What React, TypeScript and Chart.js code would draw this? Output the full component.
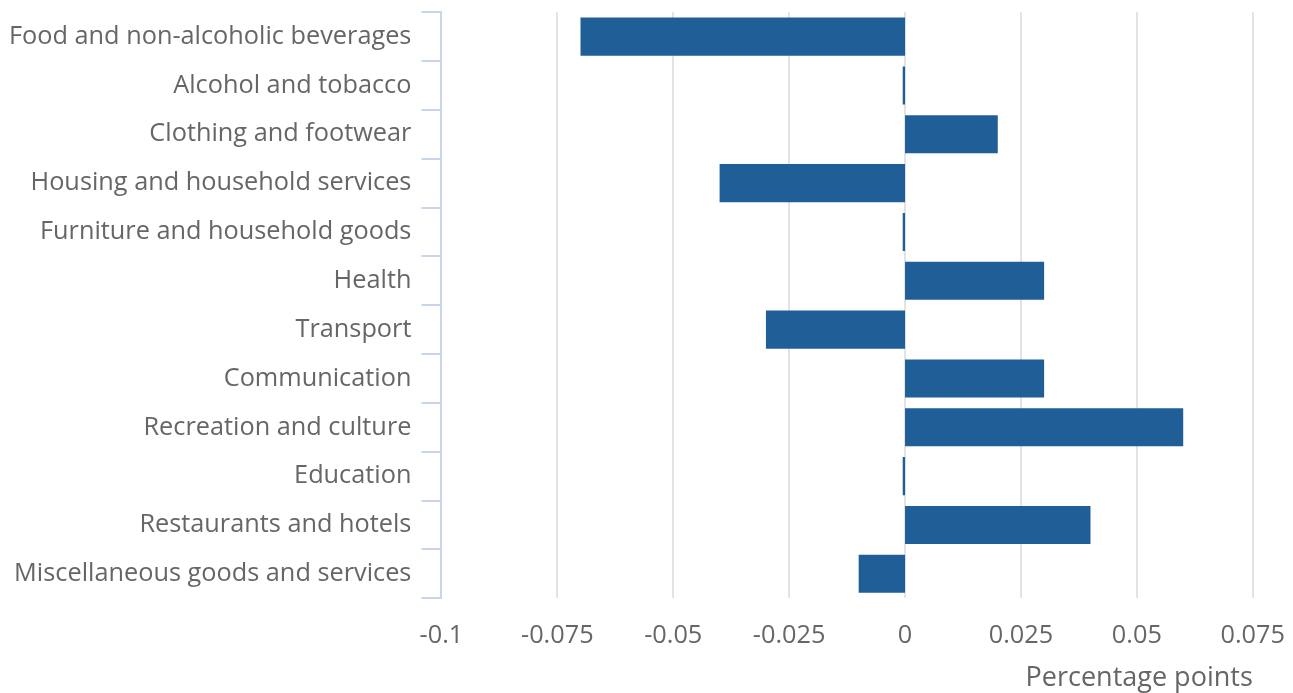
import React, { useEffect, useRef } from "react";
import { Chart, registerables } from "chart.js";

Chart.register(...registerables);

const categories = [
  "Food and non-alcoholic beverages",
  "Alcohol and tobacco",
  "Clothing and footwear",
  "Housing and household services",
  "Furniture and household goods",
  "Health",
  "Transport",
  "Communication",
  "Recreation and culture",
  "Education",
  "Restaurants and hotels",
  "Miscellaneous goods and services",
];

const values = [-0.07, -0.0005, 0.02, -0.04, -0.0005, 0.03, -0.03, 0.03, 0.06, -0.0005, 0.04, -0.01];

const xMin = -0.1;
const xMax = 0.075;
const xStep = 0.025;
const xTitle = "Percentage points";

export default function App() {
  const ref = useRef<HTMLCanvasElement | null>(null);

  useEffect(() => {
    if (!ref.current) return;
    const font = { family: "'Open Sans', sans-serif", size: 25.3 };
    const chart = new Chart(ref.current, {
      type: "bar",
      data: {
        labels: categories,
        datasets: [
          {
            data: values,
            backgroundColor: "#1f5e96",
            borderWidth: 0,
            barPercentage: 0.78,
            categoryPercentage: 1,
          },
        ],
      },
      options: {
        indexAxis: "y",
        animation: false,
        responsive: true,
        maintainAspectRatio: false,
        layout: { padding: { top: 4, right: 0, bottom: 0, left: 0 } },
        plugins: {
          legend: { display: false },
          tooltip: { enabled: false },
        },
        scales: {
          x: {
            min: xMin,
            max: xMax,
            border: { display: false },
            grid: {
              color: "#e3e3e3",
              lineWidth: 2,
              drawTicks: false,
            },
            ticks: {
              stepSize: xStep,
              color: "#666666",
              font,
              padding: 22,
              callback: (v: any) => String(Number(Number(v).toFixed(4))),
            },
            title: {
              display: true,
              text: xTitle,
              align: "end",
              color: "#666666",
              font: { family: "'Open Sans', sans-serif", size: 27 },
              padding: { top: -10, bottom: 0 },
            },
          },
          y: {
            border: { display: true, color: "#c8d5ec", width: 2 },
            grid: {
              offset: true,
              drawOnChartArea: false,
              color: "#c8d5ec",
              lineWidth: 2,
              tickLength: 20,
            },
            ticks: {
              color: "#666666",
              font,
              padding: 10,
            },
          },
        },
      },
    });
    return () => chart.destroy();
  }, []);

  return (
    <div style={{ position: "fixed", left: -1, right: -14, top: -13, height: 708 }}>
      <canvas ref={ref} />
    </div>
  );
}
